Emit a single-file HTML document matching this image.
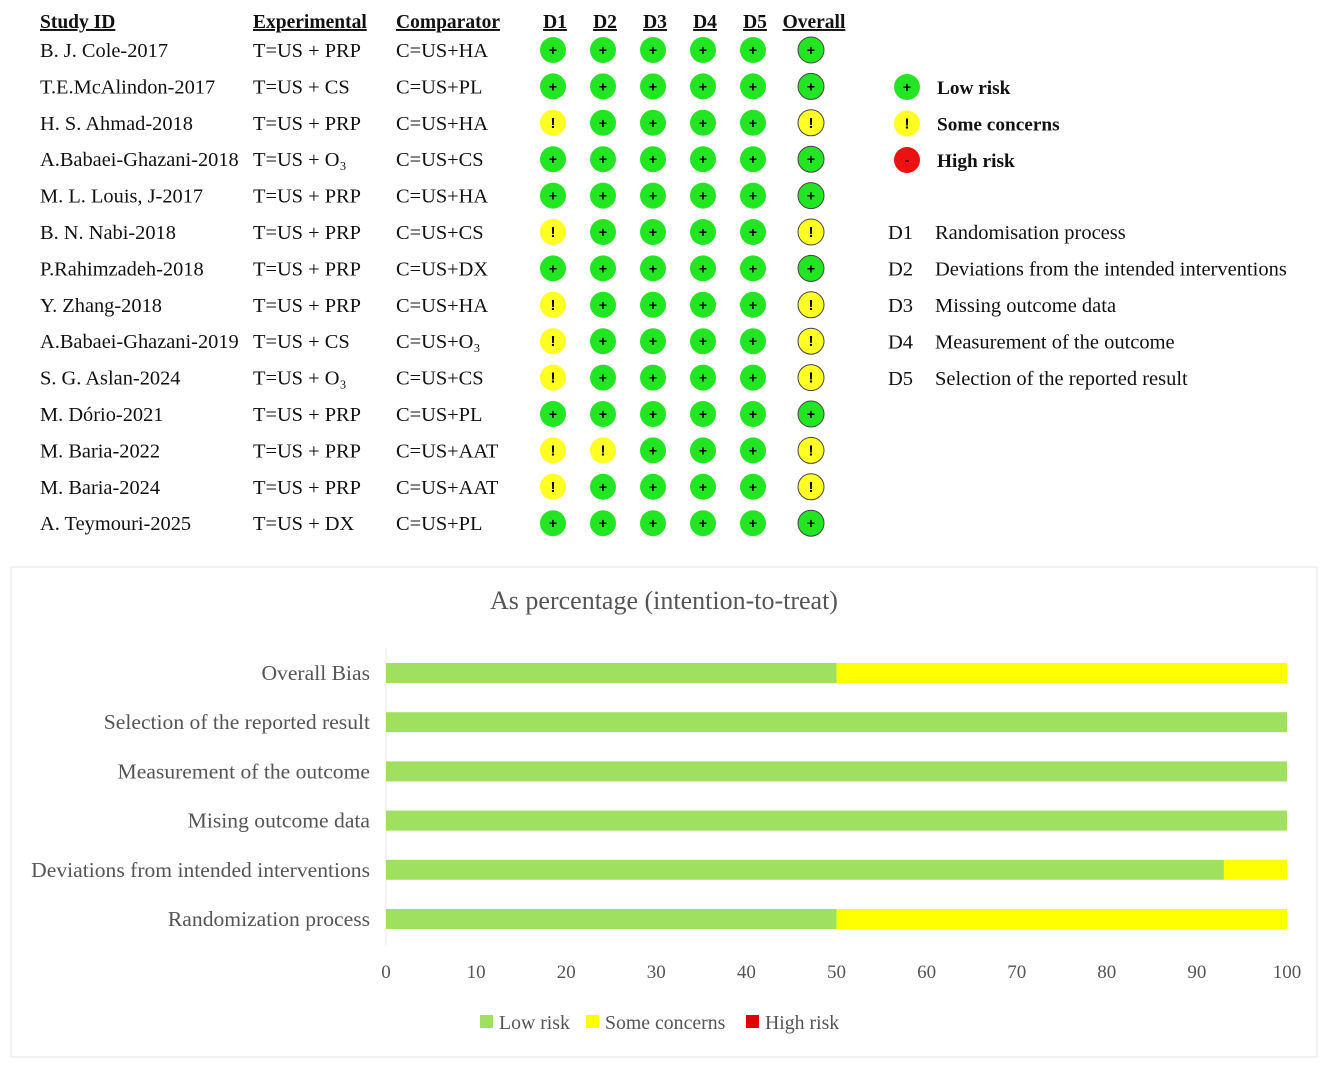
<!DOCTYPE html>
<html><head><meta charset="utf-8"><style>
body{margin:0;background:#fff;width:1325px;height:1067px;overflow:hidden;font-family:"Liberation Serif",serif}
svg{display:block}
</style></head><body>
<svg width="1325" height="1067" id="fig">
<g id="topg"></g>
<g id="legend"></g>
<rect x="11" y="567" width="1306" height="490" fill="#fff" stroke="#e4e4e4"/>
<text x="664" y="609" text-anchor="middle" font-size="26" fill="#555">As percentage (intention-to-treat)</text>
<g id="chart"></g>
</svg>
<script>
const studies=["B. J. Cole-2017","T.E.McAlindon-2017","H. S. Ahmad-2018","A.Babaei-Ghazani-2018","M. L. Louis, J-2017","B. N. Nabi-2018","P.Rahimzadeh-2018","Y. Zhang-2018","A.Babaei-Ghazani-2019","S. G. Aslan-2024","M. Dório-2021","M. Baria-2022","M. Baria-2024","A. Teymouri-2025"];
const experimental=["T=US + PRP","T=US + CS","T=US + PRP","T=US + O₃","T=US + PRP","T=US + PRP","T=US + PRP","T=US + PRP","T=US + CS","T=US + O₃","T=US + PRP","T=US + PRP","T=US + PRP","T=US + DX"];
const comparator=["C=US+HA","C=US+PL","C=US+HA","C=US+CS","C=US+HA","C=US+CS","C=US+DX","C=US+HA","C=US+O₃","C=US+CS","C=US+PL","C=US+AAT","C=US+AAT","C=US+PL"];
const judgements=["LLLLLL","LLLLLL","SLLLLS","LLLLLL","LLLLLL","SLLLLS","LLLLLL","SLLLLS","SLLLLS","SLLLLS","LLLLLL","SSLLLS","SLLLLS","LLLLLL"];
const domainHeads=["D1","D2","D3","D4","D5","Overall"];
const domainDescs=[["D1","Randomisation process"],["D2","Deviations from the intended interventions"],["D3","Missing outcome data"],["D4","Measurement of the outcome"],["D5","Selection of the reported result"]];

const categories=["Overall Bias","Selection of the reported result","Measurement of the outcome","Mising outcome data","Deviations from intended interventions","Randomization process"];
const lowRisk=[50,100,100,100,93,50];
const someConcerns=[50,0,0,0,7,50];
const highRisk=[0,0,0,0,0,0];
const xTicks=[0,10,20,30,40,50,60,70,80,90,100];

const NS="http://www.w3.org/2000/svg";
function mk(p,tag,at,txt){const e=document.createElementNS(NS,tag);for(const k in at)e.setAttribute(k,at[k]);if(txt!==undefined)e.textContent=txt;p.appendChild(e);return e;}
const topG=document.getElementById('topg');
const rowY=i=>50+i*36.4;
const colX=[553,603,653,703,753,811];
const hdrs=[["Study ID",40],["Experimental",253],["Comparator",396]];
hdrs.forEach(h=>{const t=mk(topG,'text',{x:h[1],y:28,'font-size':19.5,'font-weight':'bold','text-decoration':'underline',fill:'#111'},h[0]);

});
domainHeads.forEach((h,j)=>{const t=mk(topG,'text',{x:colX[j]+(j==5?3:2),y:28,'font-size':19.5,'font-weight':'bold','text-decoration':'underline','text-anchor':'middle',fill:'#111'},h);

});
function dot(p,cx,cy,k,outline){
 const fill=k==='L'?'#22e622':k==='S'?'#ffff22':'#ee1111';
 const c=mk(p,'circle',{cx:cx,cy:cy,r:13,fill:fill,stroke:outline?'#444':'none','stroke-width':1});
 
 
 mk(p,'text',{x:cx,y:cy+5,'text-anchor':'middle','font-size':k==='S'?15:14,'font-weight':'bold',fill:'#000','font-family':'Liberation Sans,sans-serif'},k==='L'?'+':k==='S'?'!':'-');
}
studies.forEach((s,i)=>{const y=rowY(i);
 const a=mk(topG,'text',{x:40,y:y+7,'font-size':20.4,fill:'#111'},s);
 
 
 const b=mk(topG,'text',{x:253,y:y+7,'font-size':20.4,fill:'#111'},experimental[i]);
 
 
 const c=mk(topG,'text',{x:396,y:y+7,'font-size':20.4,fill:'#111'},comparator[i]);
 
 
 for(let j=0;j<6;j++)dot(topG,colX[j],y,judgements[i][j],j==5);
});
const lg=document.getElementById('legend');
[["L","Low risk"],["S","Some concerns"],["H","High risk"]].forEach((e,i)=>{const y=87+i*36.5;dot(lg,907,y,e[0],false);
 const t=mk(lg,'text',{x:937,y:y+7,'font-size':19.3,'font-weight':'bold',fill:'#111'},e[1]);
 
 });
domainDescs.forEach((d,i)=>{const y=239+i*36.5;
 mk(lg,'text',{x:888,y:y,'font-size':20.5,fill:'#111'},d[0]);
 const t=mk(lg,'text',{x:935,y:y,'font-size':20.5,fill:'#111'},d[1]);
 
 });

const ch=document.getElementById('chart');
const x0=386,x1=1287,xs=v=>x0+(x1-x0)*v/100;
const yc=i=>673+i*49.2;
mk(ch,'line',{x1:x0,y1:648,x2:x0,y2:945,stroke:'#e8e8e8'});
categories.forEach((c,i)=>{const y=yc(i);
 const t=mk(ch,'text',{x:370,y:y+7,'text-anchor':'end','font-size':21.6,fill:'#555'},c);
 
 
 let acc=0;
 [[lowRisk,'#a0e060','bar-low-risk'],[someConcerns,'#ffff00','bar-some-concerns'],[highRisk,'#e00000','bar-high-risk']].forEach(s=>{const v=s[0][i];if(v>0){
  const r=mk(ch,'rect',{x:xs(acc),y:y-10,width:xs(acc+v)-xs(acc),height:20,fill:s[1]});
  
  
  acc+=v;}});
});
xTicks.forEach(v=>{const t=mk(ch,'text',{x:xs(v),y:978,'text-anchor':'middle','font-size':19,fill:'#555'},v);
 
 });
[["#a0e060","Low risk",480],["#ffff00","Some concerns",586],["#e00000","High risk",746]].forEach(l=>{
 const r=mk(ch,'rect',{x:l[2],y:1015,width:13,height:13,fill:l[0]});
 
 
 const t=mk(ch,'text',{x:l[2]+19,y:1029,'font-size':19.8,fill:'#555'},l[1]);
 
 });
</script>
</body></html>
